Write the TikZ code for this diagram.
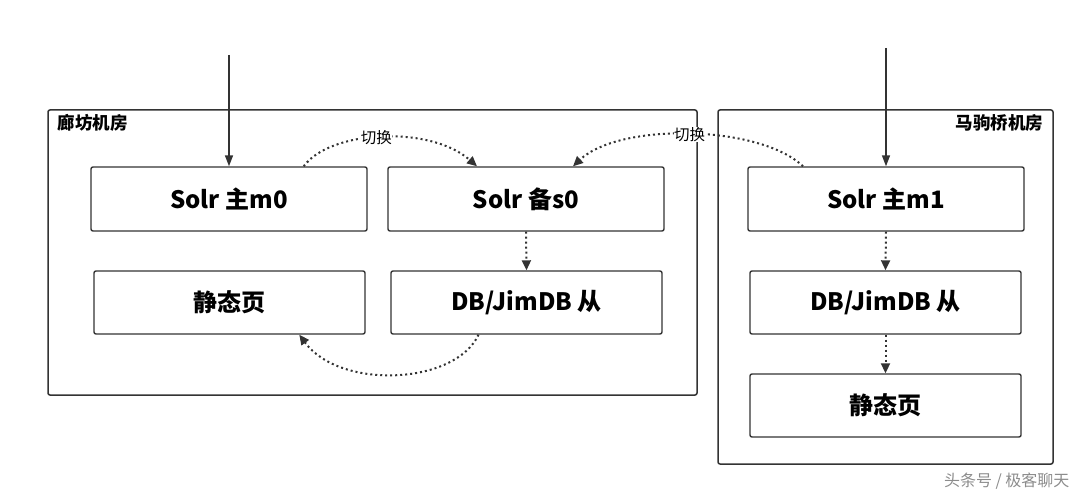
\documentclass[tikz,border=0pt]{standalone}
\usepackage{fontspec}
\setmainfont{Noto Sans CJK SC}
\usetikzlibrary{arrows.meta}
\begin{document}
\begin{tikzpicture}[x=1pt,y=-1pt,
  grp/.style={draw=black!80,line width=1.5pt,rounded corners=2pt},
  box/.style={draw=black!80,line width=1.4pt,rounded corners=2pt,font=\fontsize{24}{27}\selectfont\bfseries},
  dot/.style={line width=2pt,dash pattern=on 2pt off 3pt,draw=black!80,-{Triangle[length=10pt,width=9pt]}},
  lab/.style={font=\fontsize{15.5}{17}\selectfont,fill=white,inner sep=0.5pt}]
\useasboundingbox (0,0) rectangle (1085,497);
\draw[grp] (48,110) rectangle (697,395);
\draw[grp] (718,110) rectangle (1053,464);
\node[anchor=north west,font=\fontsize{17.5}{19}\selectfont\bfseries] (g1) at (54,111) {廊坊机房};
\node[anchor=north east,font=\fontsize{17.5}{19}\selectfont\bfseries] (g2) at (1047,111) {马驹桥机房};
\node[box,minimum width=276pt,minimum height=64pt] (m0) at (229,199) {Solr 主m0};
\node[box,minimum width=276pt,minimum height=64pt] (s0) at (526,199) {Solr 备s0};
\node[box,minimum width=271pt,minimum height=63pt] (st1) at (229.5,302.5) {静态页};
\node[box,minimum width=271pt,minimum height=63pt] (db1) at (526.5,302.5) {DB/JimDB 从};
\node[box,minimum width=276pt,minimum height=64pt] (m1) at (886,199) {Solr 主m1};
\node[box,minimum width=271pt,minimum height=63pt] (db2) at (885.5,302.5) {DB/JimDB 从};
\node[box,minimum width=271pt,minimum height=63pt] (st2) at (885.5,405.5) {静态页};
\coordinate (in1) at (229,55);
\coordinate (in2) at (886,48);
\draw[line width=1.5pt,draw=black!80,-{Triangle[length=11pt,width=8pt]}] (in1) -- (m0.north);
\draw[line width=1.5pt,draw=black!80,-{Triangle[length=11pt,width=8pt]}] (in2) -- (m1.north);
\draw[dot] (s0.south) -- (db1.north);
\draw[dot] (m1.south) -- (db2.north);
\draw[dot] (db2.south) -- (st2.north);
\draw[dot] ([xshift=-64pt]m0.north east) .. controls (330,130) and (430,125) .. ([xshift=-49pt]s0.north) node[lab,pos=0.47] (sw1) {切换};
\draw[dot] ([xshift=-83pt]m1.north) .. controls (760,125) and (620,122) .. ([xshift=47pt]s0.north) node[lab,pos=0.5] (sw2) {切换};
\draw[dot] ([xshift=-48pt]db1.south) .. controls (455,385) and (340,390) .. ([xshift=206pt]st1.south west);
\node[font=\fontsize{16}{18}\selectfont,text=black!45,anchor=east] (wm) at (1073,481) {头条号 / 极客聊天};
\end{tikzpicture}
\end{document}
